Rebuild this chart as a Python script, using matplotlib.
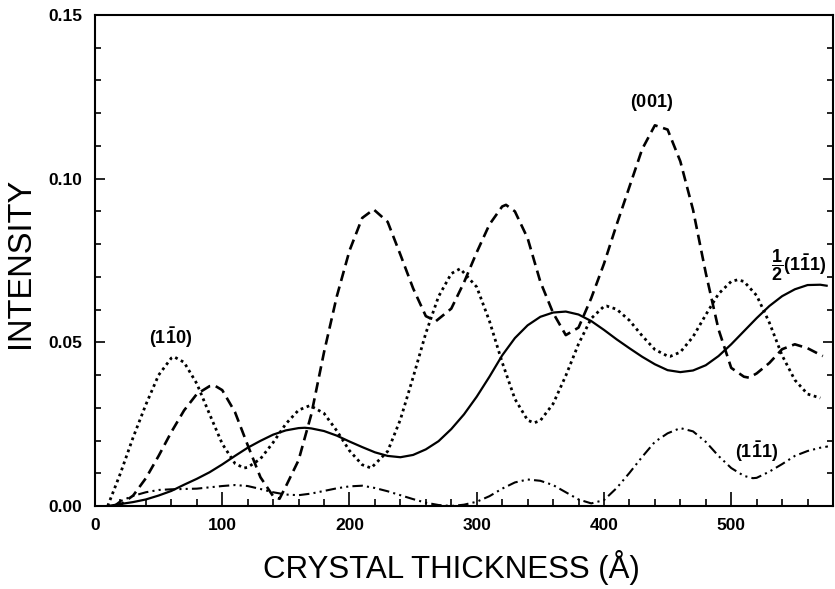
import matplotlib
matplotlib.use("Agg")
import matplotlib.pyplot as plt
from matplotlib import font_manager
from matplotlib.ticker import MultipleLocator, FormatStrFormatter

# ---------------- data ----------------
x_110 = [10, 20, 30, 40, 50, 60, 62, 70, 80, 90, 100, 110, 117, 120, 130, 140, 150, 160, 169,
         180, 190, 200, 210, 217, 230, 240, 250, 260, 270, 280, 287, 300, 310, 320, 330, 340,
         345, 350, 360, 370, 380, 390, 400, 402, 410, 420, 430, 440, 450, 452, 460, 470, 480,
         490, 500, 505, 510, 520, 530, 540, 550, 560, 570]
y_110 = [0.0, 0.010, 0.021, 0.031, 0.040, 0.0452, 0.0456, 0.0439, 0.0374, 0.0281, 0.0190, 0.0130,
         0.0116, 0.0118, 0.0144, 0.0194, 0.0251, 0.0293, 0.0307,
         0.0283, 0.0230, 0.0169, 0.0126, 0.0116, 0.0167, 0.0264, 0.0393, 0.0528, 0.0640, 0.0710,
         0.0725, 0.0669, 0.0565, 0.0439, 0.0327, 0.0262,
         0.0254, 0.0261, 0.0312, 0.0398, 0.0495, 0.0573, 0.0610, 0.0611, 0.0601, 0.0567, 0.0520,
         0.0478, 0.0458, 0.0457, 0.0470, 0.0517, 0.0584,
         0.0648, 0.0686, 0.0691, 0.0686, 0.0643, 0.0560, 0.0460, 0.0385, 0.0342, 0.0330]

x_001 = [15, 20, 30, 40, 50, 60, 70, 80, 90, 94, 100, 110, 120, 130, 140, 145, 150, 160, 170,
         180, 190, 200, 210, 219, 230, 240, 250, 260, 268, 280, 290, 300, 310, 320, 323, 330,
         340, 350, 360, 370, 380, 390, 400, 410, 420, 430, 440, 450, 460, 470, 480, 490, 500,
         510, 514, 520, 530, 540, 550, 560, 572]
y_001 = [0.0, 0.0004, 0.0032, 0.0085, 0.0153, 0.0226, 0.0292, 0.0342, 0.0366, 0.0368, 0.0354,
         0.0287, 0.0186, 0.0088, 0.0030, 0.0022, 0.0060, 0.0140, 0.0280,
         0.0470, 0.0640, 0.0780, 0.0880, 0.0906, 0.0868, 0.0768, 0.0665, 0.0580, 0.0565, 0.0603,
         0.0683, 0.0775, 0.0860, 0.0915, 0.0920, 0.0900,
         0.0818, 0.0685, 0.0590, 0.0522, 0.0545, 0.0635, 0.0740, 0.0860, 0.0975, 0.1090, 0.1163,
         0.1150, 0.1053, 0.0905, 0.0712, 0.0540, 0.0422,
         0.0395, 0.0392, 0.0405, 0.0437, 0.0479, 0.0494, 0.0482, 0.0458]

x_half = [10, 20, 30, 40, 50, 60, 70, 80, 90, 100, 110, 120, 130, 140, 150, 160, 165, 170, 180,
          190, 200, 210, 220, 230, 240, 250, 260, 270, 280, 290, 300, 310, 320, 330, 340, 350,
          360, 370, 380, 390, 400, 410, 420, 430, 440, 450, 460, 470, 480, 490, 500, 510, 520,
          530, 540, 550, 560, 570, 575]
y_half = [0.0, 0.0006, 0.0012, 0.0020, 0.0032, 0.0046, 0.0065, 0.0083, 0.0103, 0.0127, 0.0153,
          0.0178, 0.0199, 0.0218, 0.0231, 0.0238, 0.0239, 0.0237, 0.0229,
          0.0215, 0.0197, 0.0180, 0.0164, 0.0153, 0.0149, 0.0156, 0.0173, 0.0198, 0.0235, 0.0280,
          0.0334, 0.0395, 0.0460, 0.0513, 0.0552, 0.0578,
          0.0591, 0.0594, 0.0585, 0.0565, 0.0538, 0.0509, 0.0482, 0.0456, 0.0433, 0.0415, 0.0409,
          0.0414, 0.0430, 0.0458, 0.0494, 0.0534, 0.0574,
          0.0611, 0.0641, 0.0662, 0.0675, 0.0676, 0.0673]

x_111 = [15, 20, 30, 40, 50, 60, 70, 80, 90, 100, 110, 120, 130, 140, 150, 160, 170, 180, 190,
         200, 210, 220, 230, 240, 250, 260, 270, 280, 290, 300, 310, 320, 330, 340, 350, 360,
         370, 380, 390, 400, 410, 420, 430, 440, 450, 460, 470, 480, 490, 500, 510, 517, 520,
         530, 540, 550, 560, 570, 576]
y_111 = [0.0, 0.0015, 0.0031, 0.0042, 0.0049, 0.0051, 0.0052, 0.0053, 0.0057, 0.0061, 0.0064,
         0.0061, 0.0052, 0.0042, 0.0035, 0.0033, 0.0038, 0.0046, 0.0054,
         0.0060, 0.0062, 0.0055, 0.0045, 0.0033, 0.0021, 0.0010, 0.0003, 0.0, 0.0004, 0.0013,
         0.0030, 0.0053, 0.0072, 0.0081, 0.0077, 0.0064,
         0.0042, 0.0020, 0.0008, 0.0018, 0.0055, 0.0101, 0.0150, 0.0196, 0.0222, 0.0238, 0.0228,
         0.0196, 0.0153, 0.0116, 0.0092, 0.0085, 0.0086,
         0.0105, 0.0128, 0.0153, 0.0168, 0.0178, 0.0182]

x_ticks = [0, 100, 200, 300, 400, 500]
y_ticks = [0.00, 0.05, 0.10, 0.15]

label_110 = r'$\mathbf{(1\bar{1}0)}$'
label_001 = r'$\mathbf{(001)}$'
label_half = r'$\mathbf{\dfrac{1}{2}(1\bar{1}1)}$'
label_111 = r'$\mathbf{(1\bar{1}1)}$'

# ---------------- style ----------------
names = {f.name for f in font_manager.fontManager.ttflist}
base = 'Liberation Sans' if 'Liberation Sans' in names else 'DejaVu Sans'

plt.rcParams['font.family'] = [base, 'DejaVu Sans']
plt.rcParams['mathtext.fontset'] = 'custom'
plt.rcParams['mathtext.rm'] = base
plt.rcParams['mathtext.bf'] = base + ':bold'
plt.rcParams['mathtext.it'] = base + ':italic'

fig = plt.figure(figsize=(8.35, 5.89), dpi=100)
ax = fig.add_axes([95 / 835, 83 / 589, 738 / 835, 491 / 589])

ax.plot(x_110, y_110, color='black', lw=2.0, linestyle=(0, (1.0, 1.3)))
ax.plot(x_001, y_001, color='black', lw=1.9, linestyle=(0, (4.0, 2.2)))
ax.plot(x_half, y_half, color='black', lw=1.6, linestyle='-')
ax.plot(x_111, y_111, color='black', lw=1.5, linestyle=(0, (5, 2, 1, 2, 1, 2)))

ax.set_xlim(0, 580)
ax.set_ylim(0, 0.15)
ax.set_xticks(x_ticks)
ax.set_yticks(y_ticks)
ax.xaxis.set_minor_locator(MultipleLocator(20))
ax.yaxis.set_minor_locator(MultipleLocator(0.01))
ax.yaxis.set_major_formatter(FormatStrFormatter('%.2f'))

ax.tick_params(axis='both', which='both', direction='in', right=True, top=False, width=1.2)
ax.tick_params(axis='x', which='major', length=10, pad=9)
ax.tick_params(axis='x', which='minor', length=5)
ax.tick_params(axis='y', which='major', length=7, pad=9)
ax.tick_params(axis='y', which='minor', length=4.5)
for lab in ax.get_xticklabels() + ax.get_yticklabels():
    lab.set_fontweight('bold')
    lab.set_fontsize(12.5)
for sp in ax.spines.values():
    sp.set_linewidth(1.5)

ax.text(59, 0.0515, label_110, ha='center', va='center', fontsize=13)
ax.text(437, 0.1233, label_001, ha='center', va='center', fontsize=13)
ax.text(553, 0.0736, label_half, ha='center', va='center', fontsize=13)
ax.text(520, 0.0167, label_111, ha='center', va='center', fontsize=13)

fig.text(451 / 835, 1 - 578 / 589, 'CRYSTAL THICKNESS (Å)', ha='center', va='baseline',
         fontsize=22.5)
fig.text(21 / 835, 1 - 263 / 589, 'INTENSITY', ha='center', va='center', rotation=90,
         fontsize=23.5)

fig.savefig('out.png', dpi=100)
